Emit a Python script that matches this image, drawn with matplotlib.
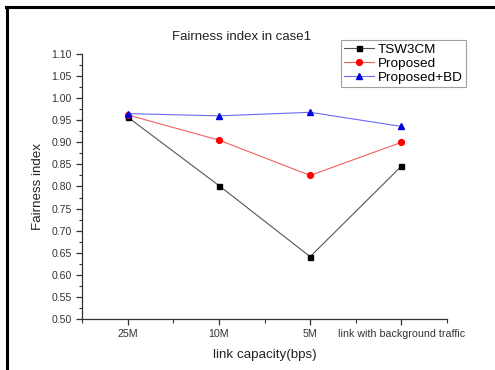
import matplotlib
matplotlib.use('Agg')
import matplotlib.pyplot as plt
from matplotlib.lines import Line2D
from matplotlib.ticker import MultipleLocator

plt.rcParams['font.family'] = ['Liberation Sans', 'DejaVu Sans']

# data
categories = ['25M', '10M', '5M', 'link with background traffic']
tsw3cm = [0.957, 0.802, 0.641, 0.846]
proposed = [0.962, 0.905, 0.825, 0.900]
proposedBD = [0.965, 0.960, 0.968, 0.936]

fig = plt.figure(figsize=(4.95, 3.7), dpi=100)
ax = fig.add_axes([0.166, 0.138, 0.737, 0.716])

xs = range(1, len(categories) + 1)
ax.plot(xs, tsw3cm, color='#555555', lw=0.8, marker='s', ms=3.6, mfc='black', mec='black', label='TSW3CM')
ax.plot(xs, proposed, color='#f06060', lw=0.8, marker='o', ms=4.2, mfc='red', mec='red', label='Proposed')
ax.plot(xs, proposedBD, color='#6a6af0', lw=0.8, marker='^', ms=4.4, mfc='#0000dd', mec='#0000dd', label='Proposed+BD')

ax.set_xlim(0.5, 4.5)
ax.set_ylim(0.50, 1.10)
ax.set_xticks(list(xs))
ax.set_xticklabels(categories)
ax.xaxis.set_minor_locator(MultipleLocator(0.5))
ax.yaxis.set_major_locator(MultipleLocator(0.05))
ax.yaxis.set_minor_locator(MultipleLocator(0.025))
ax.yaxis.set_major_formatter(matplotlib.ticker.FormatStrFormatter('%.2f'))

for side in ['top', 'right']:
    ax.spines[side].set_visible(False)
for side in ['left', 'bottom']:
    ax.spines[side].set_color('#333333')
    ax.spines[side].set_linewidth(0.9)
ax.tick_params(which='major', direction='out', length=4, width=0.9, colors='#333333', labelcolor='#333333')
ax.tick_params(axis='y', which='major', labelsize=7.6)
ax.tick_params(axis='x', which='major', labelsize=7.7)
ax.tick_params(which='minor', direction='out', length=2, width=0.8, colors='#333333')
ax.tick_params(axis='x', which='minor', length=3)

fig.text(242 / 495, 1 - 37 / 370, 'Fairness index in case1', fontsize=9.5, color='#222222', ha='center', va='center')
ax.set_xlabel('link capacity(bps)', fontsize=9.6, color='#222222', labelpad=7)
ax.set_ylabel('Fairness index', fontsize=9.6, color='#222222', labelpad=5)

leg = ax.legend(loc='upper right', bbox_to_anchor=(466 / 495, 1 - 40 / 370), bbox_transform=fig.transFigure,
                fontsize=9.7, frameon=True, fancybox=False, handlelength=2.2, handletextpad=0.3,
                borderpad=0.25, labelspacing=0.12, borderaxespad=0)
leg.get_frame().set_edgecolor('#888888')
leg.get_frame().set_linewidth(0.8)

# border of the pasted image (top and left only)
fig.add_artist(Line2D([0.012, 1.0], [0.981, 0.981], color='black', lw=2.2, transform=fig.transFigure))
fig.add_artist(Line2D([0.014, 0.014], [0.0, 0.981], color='black', lw=2.2, transform=fig.transFigure))

fig.savefig('out.png', dpi=100)
